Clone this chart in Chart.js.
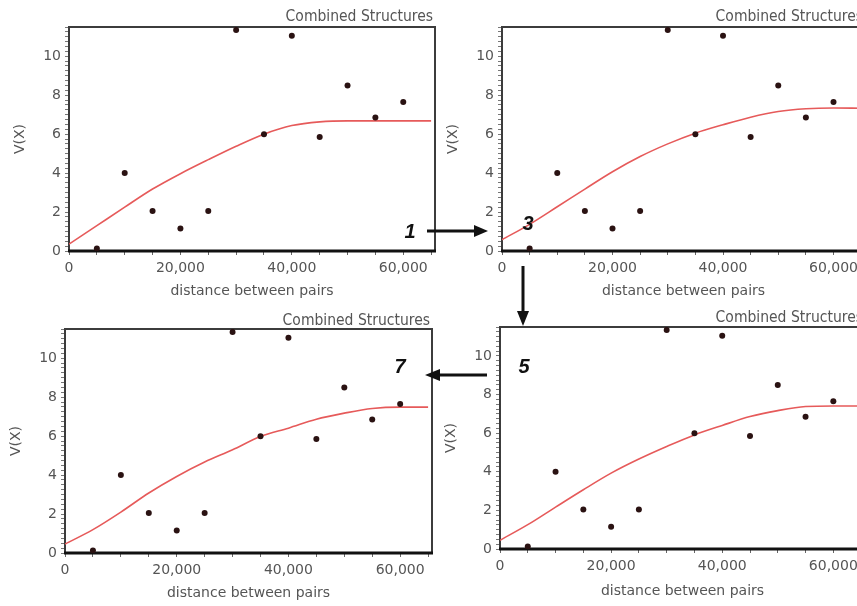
<!DOCTYPE html>
<html>
<head>
<meta charset="utf-8">
<script src="https://cdn.jsdelivr.net/npm/chart.js@4.4.0/dist/chart.umd.min.js"></script>
<style>
  html, body { margin: 0; padding: 0; background: #fff; }
  body { width: 857px; height: 606px; overflow: hidden; position: relative; }
  canvas.panel { position: absolute; }
  #steps { position: absolute; left: 0; top: 0; }
</style>
</head>
<body>
<canvas class="panel" id="step1" width="440" height="300"></canvas>
<canvas class="panel" id="step3" width="440" height="300"></canvas>
<canvas class="panel" id="step7" width="440" height="300"></canvas>
<canvas class="panel" id="step5" width="440" height="300"></canvas>

<svg id="steps" width="857" height="606" xmlns="http://www.w3.org/2000/svg">
  <g stroke="#111" stroke-width="3" fill="#111">
    <line x1="427" y1="231" x2="476" y2="231"/>
    <polygon points="474,225 488,231 474,237" stroke="none"/>
    <line x1="523" y1="266" x2="523" y2="313"/>
    <polygon points="517,311 523,326 529,311" stroke="none"/>
    <line x1="487" y1="375" x2="438" y2="375"/>
    <polygon points="440,369 425,375 440,381" stroke="none"/>
  </g>
  <g font-family="Liberation Sans, Arial, sans-serif" font-size="20" font-weight="bold" font-style="italic"
     fill="#111" text-anchor="middle" dominant-baseline="central">
    <text x="410" y="231">1</text>
    <text x="528" y="223">3</text>
    <text x="524" y="366">5</text>
    <text x="400" y="366">7</text>
  </g>
</svg>

<script>
// Experimental semivariogram: lag distance vs. semivariance
const lagDistance  = [5000, 10000, 15000, 20000, 25000, 30000, 35000, 40000, 45000, 50000, 55000, 60000];
const semivariance = [0.13, 4.0, 2.05, 1.15, 2.05, 11.35, 6.0, 11.05, 5.85, 8.5, 6.85, 7.65];

// Fitted model curve for each fitting step, sampled along the distance axis
const modelDistance = [0, 5000, 10000, 15000, 20000, 25000, 30000, 35000, 40000, 45000, 50000, 55000, 60000, 65000];
const modelStep1 = [0.35, 1.30, 2.25, 3.18, 3.97, 4.69, 5.38, 6.00, 6.44, 6.63, 6.68, 6.68, 6.68, 6.68];
const modelStep3 = [0.58, 1.37, 2.27, 3.18, 4.07, 4.85, 5.50, 6.05, 6.48, 6.87, 7.16, 7.30, 7.34, 7.33];
const modelStep5 = [0.45, 1.26, 2.17, 3.07, 3.93, 4.66, 5.31, 5.91, 6.40, 6.86, 7.17, 7.38, 7.41, 7.41];
const modelStep7 = [0.46, 1.20, 2.10, 3.08, 3.93, 4.67, 5.30, 5.98, 6.41, 6.87, 7.18, 7.42, 7.49, 7.49];

// Axis ticks: marks every 5,000 along x, labelled every 20,000; y labelled every 2
const xTickMarks  = [0, 5000, 10000, 15000, 20000, 25000, 30000, 35000, 40000, 45000, 50000, 55000, 60000, 65000];
const xTickLabels = [0, 20000, 40000, 60000];
const yTickLabels = [0, 2, 4, 6, 8, 10];
const panelTitle = 'Combined Structures';
const xAxisTitle = 'distance between pairs';
const yAxisTitle = 'V(X)';

const X_MAX = 65700;
const Y_MAX = 11.5;

const INK = '#555';
const FONT = '"DejaVu Sans", Verdana, sans-serif';

// Box around the plotting area; the zero line is heavier
const framePlugin = {
  id: 'frame',
  beforeDatasetsDraw(chart) {
    const { ctx, chartArea: a } = chart;
    ctx.save();
    ctx.strokeStyle = '#3c3c3c';
    ctx.lineWidth = 2;
    ctx.beginPath();
    ctx.moveTo(a.left, a.bottom);
    ctx.lineTo(a.left, a.top);
    ctx.lineTo(a.right, a.top);
    ctx.lineTo(a.right, a.bottom);
    ctx.stroke();
    ctx.strokeStyle = '#111';
    ctx.lineWidth = 3;
    ctx.beginPath();
    ctx.moveTo(a.left - 1, a.bottom);
    ctx.lineTo(a.right + 1, a.bottom);
    ctx.stroke();
    ctx.restore();
  }
};

// Caption above the top-right corner of the plotting area
const captionPlugin = {
  id: 'caption',
  afterDraw(chart, args, opts) {
    const { ctx, chartArea: a } = chart;
    ctx.save();
    ctx.font = '15.5px "DejaVu Sans Condensed", "DejaVu Sans", sans-serif';
    ctx.fillStyle = INK;
    ctx.textAlign = 'right';
    ctx.textBaseline = 'alphabetic';
    ctx.fillText(opts.text, a.right - 2, a.top - opts.gap);
    ctx.restore();
  }
};

function makePanel(id, model, box) {
  const canvas = document.getElementById(id);
  const left = box.plotLeft - 69;
  const top = box.plotTop - 27;
  canvas.style.left = left + 'px';
  canvas.style.top = top + 'px';
  const padRight = left + 440 - box.plotRight;
  const xAxisHeight = top + 300 - box.plotBottom;
  const xTitlePad = Math.max(0, xAxisHeight - box.titleGap - 8.4);

  const points = lagDistance.map((x, i) => ({ x, y: semivariance[i] }));
  const curve = modelDistance.map((x, i) => ({ x, y: model[i] }));

  new Chart(canvas, {
    type: 'scatter',
    data: {
      datasets: [
        {
          data: points,
          pointRadius: 3,
          pointHoverRadius: 3,
          pointBackgroundColor: '#2a1212',
          pointBorderWidth: 0,
          showLine: false
        },
        {
          data: curve,
          showLine: true,
          borderColor: '#e65a5a',
          borderWidth: 1.6,
          pointRadius: 0,
          cubicInterpolationMode: 'monotone'
        }
      ]
    },
    options: {
      responsive: false,
      animation: false,
      events: [],
      layout: { padding: { left: 0, top: 27, right: padRight, bottom: 0 } },
      plugins: {
        legend: { display: false },
        tooltip: { enabled: false },
        caption: { text: panelTitle, gap: box.captionGap }
      },
      scales: {
        x: {
          type: 'linear',
          min: 0,
          max: X_MAX,
          afterBuildTicks(s) { s.ticks = xTickMarks.map(v => ({ value: v })); },
          afterFit(s) { s.height = xAxisHeight; },
          border: { display: false },
          grid: { drawOnChartArea: false, tickLength: 4, color: '#666', tickWidth: 1 },
          ticks: {
            autoSkip: false,
            maxRotation: 0,
            padding: 5,
            color: INK,
            font: { family: FONT, size: 14 },
            callback: v => xTickLabels.includes(v) ? v.toLocaleString('en-US') : ''
          },
          title: {
            display: true,
            text: xAxisTitle,
            color: INK,
            font: { family: FONT, size: 14 },
            padding: { top: 0, bottom: xTitlePad }
          }
        },
        y: {
          type: 'linear',
          min: 0,
          max: Y_MAX,
          afterFit(s) { s.width = 69; },
          border: { display: false },
          grid: { drawOnChartArea: false, tickLength: 4, color: '#777', tickWidth: 1 },
          ticks: {
            stepSize: 0.25,
            autoSkip: false,
            padding: 4,
            color: INK,
            font: { family: FONT, size: 14 },
            callback: v => yTickLabels.includes(v) ? String(v) : ''
          },
          title: {
            display: true,
            text: yAxisTitle,
            color: INK,
            font: { family: FONT, size: 14 },
            padding: { top: 11.6, bottom: 0 }
          }
        }
      }
    },
    plugins: [framePlugin, captionPlugin]
  });
}

makePanel('step1', modelStep1, { plotLeft: 69,  plotTop: 27,  plotRight: 435, plotBottom: 251, titleGap: 41, captionGap: 6 });
makePanel('step3', modelStep3, { plotLeft: 502, plotTop: 27,  plotRight: 865, plotBottom: 251, titleGap: 42, captionGap: 6 });
makePanel('step7', modelStep7, { plotLeft: 65,  plotTop: 329, plotRight: 432, plotBottom: 553, titleGap: 42, captionGap: 4 });
makePanel('step5', modelStep5, { plotLeft: 500, plotTop: 327, plotRight: 865, plotBottom: 549, titleGap: 43, captionGap: 5 });
</script>
</body>
</html>
